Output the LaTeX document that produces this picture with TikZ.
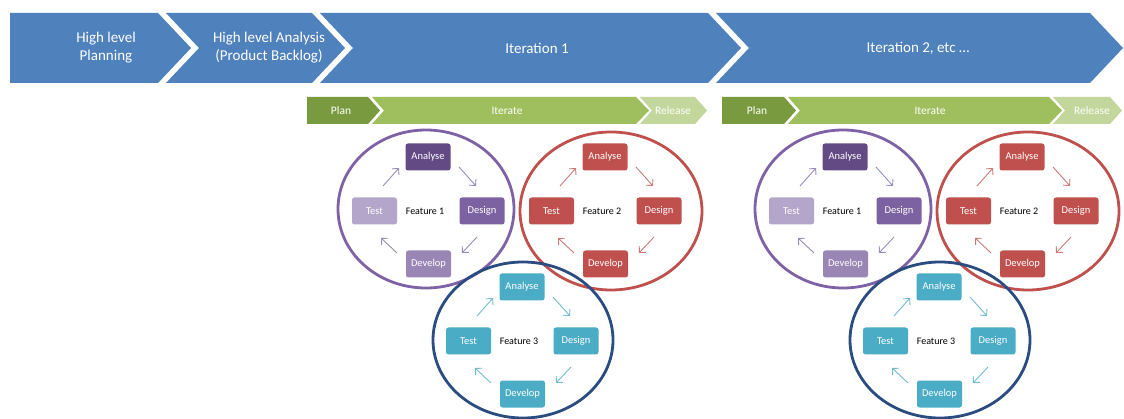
\documentclass[tikz,border=0pt]{standalone}
\usepackage{fontspec}
\setmainfont{Carlito}
\usetikzlibrary{arrows.meta}
\definecolor{bandblue}{HTML}{4F81BD}
\definecolor{gplan}{HTML}{7A9A3F}
\definecolor{giter}{HTML}{9FBE5E}
\definecolor{grel}{HTML}{C3D69B}
\definecolor{pA}{HTML}{634A84}
\definecolor{pD}{HTML}{7C62A0}
\definecolor{pV}{HTML}{9986B5}
\definecolor{pT}{HTML}{B3A6CA}
\definecolor{pRing}{HTML}{7F62A6}
\definecolor{pArr}{HTML}{9A8CB8}
\definecolor{rBox}{HTML}{C0504D}
\definecolor{rRing}{HTML}{C0504D}
\definecolor{rArr}{HTML}{CC7A78}
\definecolor{tBox}{HTML}{4BACC6}
\definecolor{tRing}{HTML}{2B4C80}
\definecolor{tArr}{HTML}{72BCD2}
\tikzset{
  bandtext/.style={text=white,font=\fontsize{15}{18}\selectfont,align=center},
  greentext/.style={text=white,font=\fontsize{11.5}{13}\selectfont},
  fbox/.style={rounded corners=2.5pt,minimum width=45pt,minimum height=27pt,inner sep=0pt,
    text=white,font=\fontsize{10.5}{12}\selectfont},
  ftext/.style={text=black,font=\fontsize{10}{12}\selectfont,inner sep=0pt},
  farrow/.style={line width=0.9pt,-{Straight Barb[length=4.5pt,width=9pt]}},
  ring/.style={line width=2.8pt}
}
% #1 prefix, #2 x, #3 y, #4 label, #5 analyse, #6 design, #7 develop, #8 test, #9 arrow colour
\newcommand\featcycle[9]{%
  \begin{scope}[shift={(#2,#3)}]
    \node[fbox,fill=#5] (#1a) at (0,0) {Analyse};
    \node[fbox,fill=#8] (#1t) at (-53.5,54) {Test};
    \node[fbox,fill=#6] (#1d) at (54,54) {Design};
    \node[fbox,fill=#7] (#1v) at (0.5,107) {Develop};
    \node[ftext] (#1f) at (-3,54) {#4};
    \coordinate (#1p1) at (-45,29); \coordinate (#1p2) at (-29,11);
    \coordinate (#1p3) at (31,10);  \coordinate (#1p4) at (48,29);
    \coordinate (#1p5) at (49,80);  \coordinate (#1p6) at (34,96);
    \coordinate (#1p7) at (-31,96); \coordinate (#1p8) at (-47,81);
    \draw[farrow,draw=#9] (#1p1) -- (#1p2);
    \draw[farrow,draw=#9] (#1p3) -- (#1p4);
    \draw[farrow,draw=#9] (#1p5) -- (#1p6);
    \draw[farrow,draw=#9] (#1p7) -- (#1p8);
  \end{scope}}
\begin{document}
\begin{tikzpicture}[x=1pt,y=-1pt]
\useasboundingbox[fill=white] (0,0) rectangle (1124,419);
% top band
\fill[bandblue] (10,13) -- (158,13) -- (191,48) -- (158,83) -- (10,83) -- cycle;
\fill[bandblue] (166,13) -- (312,13) -- (345,48) -- (312,83) -- (166,83) -- (199,48) -- cycle;
\fill[bandblue] (320,13) -- (708,13) -- (741,48) -- (708,83) -- (320,83) -- (353,48) -- cycle;
\fill[bandblue] (716,13) -- (1090,13) -- (1123,48) -- (1090,83) -- (716,83) -- (749,48) -- cycle;
\node[bandtext] (hlp) at (106,48) {High level\\Planning};
\node[bandtext] (hla) at (269,48) {High level Analysis\\(Product Backlog)};
\node[bandtext] (it1) at (537,48) {Iteration 1};
\node[bandtext] (it2) at (918,48) {Iteration 2, etc \dots};
% green bars, group 1
\fill[gplan] (307,97) -- (368,97) -- (380,110.5) -- (368,124) -- (307,124) -- cycle;
\fill[giter] (372,97) -- (636,97) -- (649,110.5) -- (636,124) -- (372,124) -- (384,110.5) -- cycle;
\fill[grel] (640,97) -- (695,97) -- (707,110.5) -- (695,124) -- (640,124) -- (652,110.5) -- cycle;
\node[greentext] (pl1) at (341,110.5) {Plan};
\node[greentext] (ir1) at (507,110.5) {Iterate};
\node[greentext] (rl1) at (673,110.5) {Release};
% green bars, group 2
\fill[gplan] (722,97) -- (784,97) -- (796,110.5) -- (784,124) -- (722,124) -- cycle;
\fill[giter] (788,97) -- (1049,97) -- (1062,110.5) -- (1049,124) -- (788,124) -- (800,110.5) -- cycle;
\fill[grel] (1053,97) -- (1110,97) -- (1122,110.5) -- (1110,124) -- (1053,124) -- (1065,110.5) -- cycle;
\node[greentext] (pl2) at (757,110.5) {Plan};
\node[greentext] (ir2) at (930,110.5) {Iterate};
\node[greentext] (rl2) at (1092,110.5) {Release};
% rings
\foreach \dx in {0,417}{
  \draw[ring,draw=pRing] (426+\dx,209) ellipse [x radius=88pt,y radius=79pt];
  \draw[ring,draw=rRing] (611+\dx,211) ellipse [x radius=91pt,y radius=79pt];
  \draw[ring,draw=tRing] (523+\dx,340) ellipse [x radius=90pt,y radius=78pt];
}
% cycles
\featcycle{la}{428}{157}{Feature 1}{pA}{pD}{pV}{pT}{pArr}
\featcycle{lb}{605}{157}{Feature 2}{rBox}{rBox}{rBox}{rBox}{rArr}
\featcycle{lc}{522}{287}{Feature 3}{tBox}{tBox}{tBox}{tBox}{tArr}
\featcycle{ra}{845}{157}{Feature 1}{pA}{pD}{pV}{pT}{pArr}
\featcycle{rb}{1022}{157}{Feature 2}{rBox}{rBox}{rBox}{rBox}{rArr}
\featcycle{rc}{939}{287}{Feature 3}{tBox}{tBox}{tBox}{tBox}{tArr}
\end{tikzpicture}
\end{document}
